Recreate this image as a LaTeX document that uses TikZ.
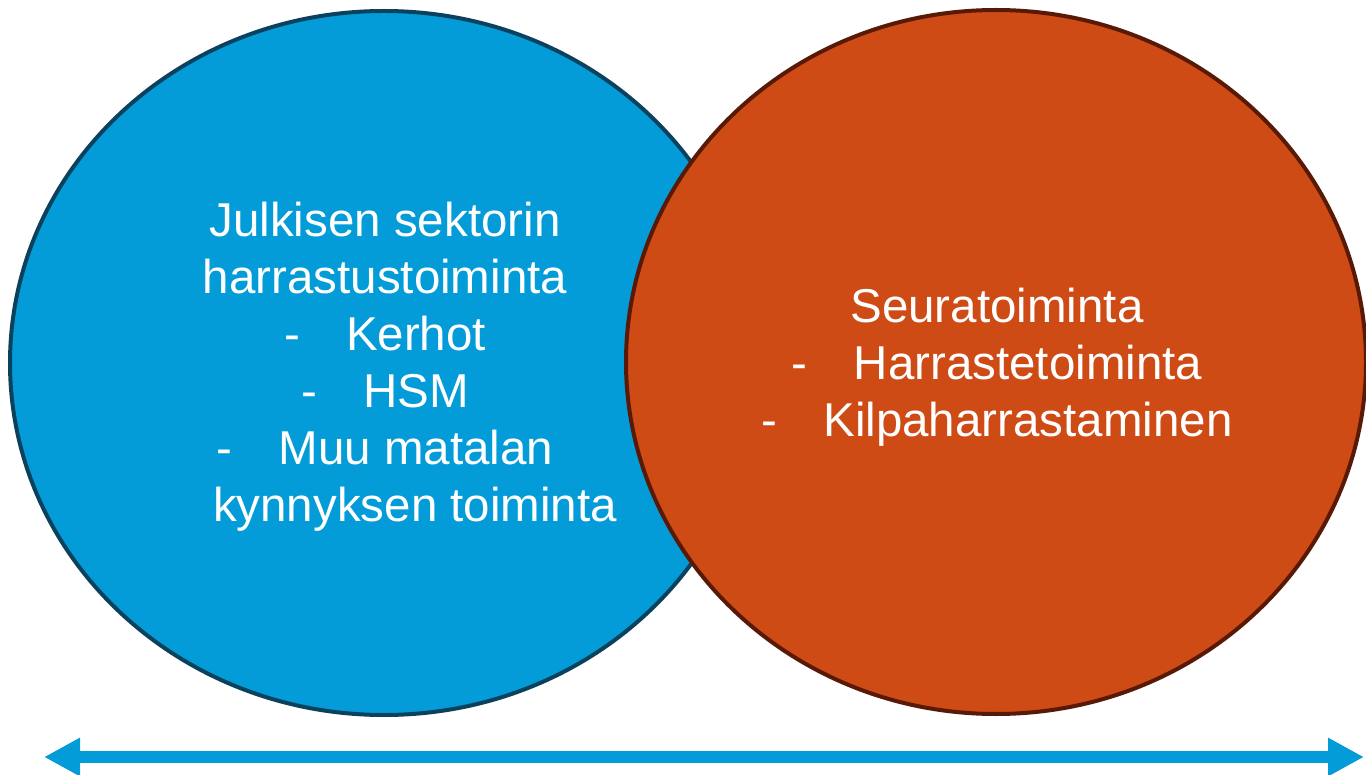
\documentclass[tikz,border=0pt]{standalone}
\usepackage{fontspec}
\setmainfont{Liberation Sans}
\usetikzlibrary{shapes.geometric,arrows.meta}
\definecolor{sininen}{RGB}{4,156,216}
\definecolor{tsininen}{RGB}{10,66,94}
\definecolor{oranssi}{RGB}{206,75,22}
\definecolor{toranssi}{RGB}{88,26,6}
\newcommand{\viiva}[1]{\makebox[31pt][l]{-}#1}

\begin{document}
\begin{tikzpicture}
		[x=0.5pt,y=-0.5pt]
		\tikzstyle{every node}=[ellipse, line width=2pt, inner sep=0pt,
		text=white, align=center, font=\fontsize{23.75pt}{28.5pt}\selectfont]
		\useasboundingbox (0,0) rectangle (1366,775);
		%-----ympyrat
		 \node[draw=tsininen, fill=sininen, minimum width=374pt, minimum height=352pt]  (JS) at (384,363) {};
		 \node[draw=toranssi, fill=oranssi, minimum width=370pt, minimum height=352pt]  (SE) at (996,362) {};
		%-----tekstit
		 \node (JSt) at (385,367) {Julkisen sektorin\\ harrastustoiminta\\ \viiva{Kerhot}\\ \viiva{HSM}\\ \viiva{Muu matalan}\\ \hspace*{30pt}kynnyksen toiminta};
		 \node (SEt) at (997,367) {Seuratoiminta\\ \viiva{Harrastetoiminta}\\ \viiva{Kilpaharrastaminen}};
		%-----nuoli
		 \coordinate (V) at (44,757);
		 \coordinate (O) at (1364,757);
		 \draw[line width=6pt, color=sininen, {Triangle[length=18pt,width=18pt]}-{Triangle[length=18pt,width=18pt]}] (V) -- (O);
		\end{tikzpicture}
\end{document}
